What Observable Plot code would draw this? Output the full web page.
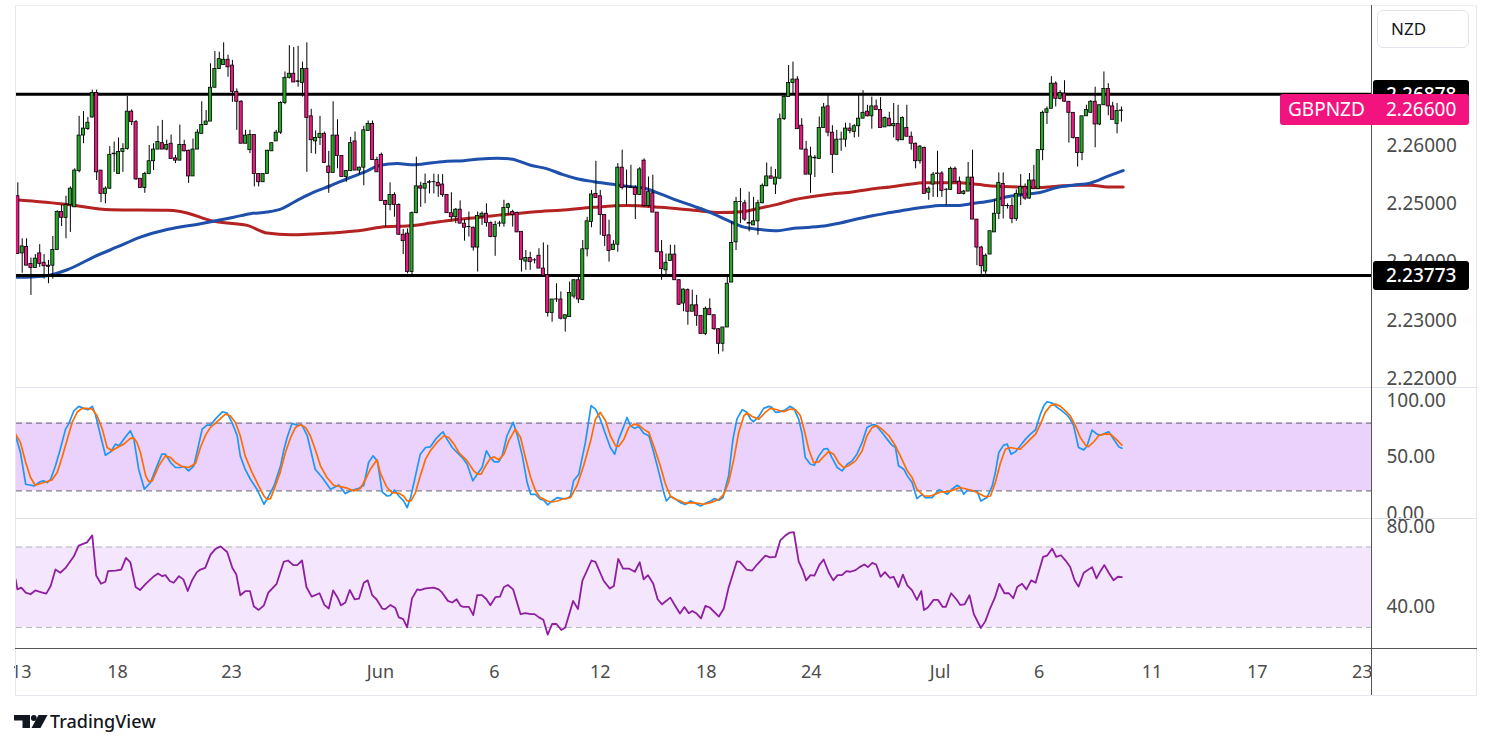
<!DOCTYPE html>
<html><head><meta charset="utf-8">
<script src="https://cdn.jsdelivr.net/npm/d3@7"></script>
<script src="https://cdn.jsdelivr.net/npm/@observablehq/plot@0.6"></script>
<style>
body{margin:0;background:#fff;}
#root{position:relative;width:1491px;height:749px;overflow:hidden;background:#fff;font-family:"Noto Sans","Open Sans",sans-serif;}
#root svg{position:absolute;left:0;max-width:none !important;}
.ln{position:absolute;}
.tag{position:absolute;color:#fff;font-size:19px;box-sizing:border-box;white-space:nowrap;}
</style></head><body><div id="root"></div>
<script>
// ---------- data ----------
const open = [2.2513,2.2415,2.2426,2.2397,2.2390,2.2415,2.2399,2.2394,2.2394,2.2421,
2.2486,2.2476,2.2498,2.2494,2.2556,2.2617,2.2628,2.2648,2.2690,2.2557,
2.2517,2.2526,2.2586,2.2551,2.2589,2.2594,2.2658,2.2640,2.2543,2.2527,
2.2551,2.2573,2.2593,2.2604,2.2593,2.2603,2.2578,2.2574,2.2601,2.2591,
2.2547,2.2593,2.2620,2.2635,2.2641,2.2699,2.2731,2.2738,2.2747,2.2737,
2.2692,2.2675,2.2603,2.2592,2.2618,2.2551,2.2537,2.2551,2.2590,2.2607,
2.2622,2.2673,2.2716,2.2723,2.2710,2.2707,2.2731,2.2650,2.2607,2.2613,
2.2620,2.2564,2.2553,2.2617,2.2582,2.2546,2.2556,2.2607,2.2557,2.2562,
2.2625,2.2637,2.2575,2.2584,2.2505,2.2498,2.2515,2.2498,2.2447,2.2449,
2.2383,2.2484,2.2530,2.2526,2.2537,2.2537,2.2536,2.2533,2.2515,2.2484,
2.2477,2.2490,2.2466,2.2460,2.2459,2.2425,2.2478,2.2483,2.2467,2.2443,
2.2466,2.2466,2.2493,2.2486,2.2484,2.2452,2.2401,2.2407,2.2403,2.2411,
2.2389,2.2378,2.2313,2.2336,2.2336,2.2303,2.2306,2.2341,2.2369,2.2335,
2.2422,2.2469,2.2517,2.2513,2.2481,2.2446,2.2421,2.2430,2.2562,2.2529,
2.2528,2.2527,2.2515,2.2574,2.2496,2.2518,2.2485,2.2417,2.2386,2.2402,
2.2413,2.2369,2.2329,2.2352,2.2315,2.2326,2.2308,2.2277,2.2320,2.2309,
2.2285,2.2260,2.2288,2.2365,2.2434,2.2503,2.2501,2.2467,2.2463,2.2470,
2.2501,2.2530,2.2547,2.2533,2.2543,2.2645,2.2683,2.2707,2.2713,2.2634,
2.2593,2.2550,2.2579,2.2577,2.2630,2.2667,2.2622,2.2584,2.2610,2.2610,
2.2629,2.2623,2.2633,2.2646,2.2658,2.2650,2.2667,2.2661,2.2631,2.2646,
2.2633,2.2637,2.2609,2.2630,2.2615,2.2603,2.2573,2.2596,2.2519,2.2533,
2.2552,2.2552,2.2524,2.2524,2.2560,2.2538,2.2517,2.2521,2.2545,2.2473,
2.2425,2.2384,2.2413,2.2451,2.2483,2.2534,2.2496,2.2496,2.2474,2.2516,
2.2529,2.2509,2.2540,2.2525,2.2592,2.2656,2.2663,2.2706,2.2680,2.2689,
2.2675,2.2656,2.2613,2.2587,2.2650,2.2656,2.2675,2.2636,2.2669,2.2697,
2.2667,2.2637,2.2659];
const high = [2.2536,2.2440,2.2440,2.2407,2.2413,2.2430,2.2413,2.2403,2.2444,2.2488,
2.2498,2.2513,2.2529,2.2560,2.2650,2.2658,2.2648,2.2695,2.2695,2.2557,
2.2529,2.2598,2.2606,2.2613,2.2603,2.2684,2.2661,2.2643,2.2543,2.2554,
2.2600,2.2603,2.2633,2.2643,2.2609,2.2618,2.2583,2.2635,2.2609,2.2592,
2.2611,2.2627,2.2675,2.2660,2.2740,2.2761,2.2760,2.2776,2.2755,2.2746,
2.2697,2.2677,2.2626,2.2626,2.2618,2.2552,2.2551,2.2592,2.2604,2.2626,
2.2675,2.2726,2.2771,2.2768,2.2770,2.2743,2.2776,2.2662,2.2625,2.2650,
2.2623,2.2590,2.2675,2.2644,2.2582,2.2557,2.2614,2.2623,2.2563,2.2633,
2.2642,2.2642,2.2580,2.2587,2.2506,2.2536,2.2519,2.2500,2.2456,2.2457,
2.2486,2.2580,2.2537,2.2551,2.2540,2.2551,2.2550,2.2550,2.2516,2.2519,
2.2492,2.2505,2.2473,2.2486,2.2460,2.2486,2.2486,2.2500,2.2469,2.2470,
2.2470,2.2506,2.2501,2.2489,2.2486,2.2452,2.2420,2.2417,2.2406,2.2423,
2.2433,2.2429,2.2336,2.2363,2.2349,2.2309,2.2366,2.2370,2.2375,2.2437,
2.2477,2.2523,2.2573,2.2523,2.2481,2.2472,2.2437,2.2569,2.2592,2.2558,
2.2566,2.2531,2.2562,2.2577,2.2546,2.2549,2.2485,2.2437,2.2414,2.2429,
2.2429,2.2370,2.2354,2.2354,2.2352,2.2343,2.2308,2.2323,2.2337,2.2309,
2.2286,2.2288,2.2377,2.2469,2.2511,2.2526,2.2506,2.2520,2.2511,2.2506,
2.2534,2.2570,2.2563,2.2559,2.2654,2.2689,2.2737,2.2743,2.2718,2.2646,
2.2607,2.2597,2.2583,2.2649,2.2672,2.2686,2.2634,2.2626,2.2623,2.2638,
2.2638,2.2636,2.2686,2.2694,2.2669,2.2683,2.2678,2.2682,2.2649,2.2657,
2.2672,2.2669,2.2649,2.2669,2.2623,2.2604,2.2600,2.2597,2.2529,2.2554,
2.2590,2.2555,2.2526,2.2563,2.2563,2.2546,2.2523,2.2571,2.2592,2.2473,
2.2427,2.2414,2.2453,2.2507,2.2553,2.2553,2.2500,2.2509,2.2524,2.2550,
2.2534,2.2552,2.2566,2.2593,2.2659,2.2666,2.2718,2.2709,2.2694,2.2711,
2.2675,2.2656,2.2613,2.2650,2.2669,2.2677,2.2700,2.2669,2.2726,2.2706,
2.2674,2.2672,2.2666];
const low = [2.2413,2.2381,2.2394,2.2343,2.2390,2.2391,2.2371,2.2363,2.2371,2.2420,
2.2461,2.2440,2.2451,2.2494,2.2553,2.2603,2.2626,2.2647,2.2540,2.2502,
2.2500,2.2525,2.2554,2.2551,2.2554,2.2592,2.2634,2.2540,2.2527,2.2518,
2.2550,2.2557,2.2593,2.2593,2.2591,2.2577,2.2569,2.2574,2.2589,2.2535,
2.2547,2.2593,2.2620,2.2635,2.2641,2.2699,2.2731,2.2738,2.2717,2.2674,
2.2626,2.2603,2.2603,2.2586,2.2529,2.2529,2.2537,2.2551,2.2590,2.2607,
2.2619,2.2670,2.2714,2.2708,2.2700,2.2683,2.2554,2.2586,2.2585,2.2600,
2.2569,2.2518,2.2553,2.2560,2.2546,2.2537,2.2556,2.2557,2.2550,2.2531,
2.2625,2.2575,2.2554,2.2505,2.2460,2.2488,2.2477,2.2446,2.2413,2.2380,
2.2377,2.2483,2.2494,2.2500,2.2517,2.2517,2.2511,2.2511,2.2484,2.2469,
2.2466,2.2466,2.2436,2.2443,2.2419,2.2383,2.2463,2.2460,2.2442,2.2410,
2.2460,2.2460,2.2480,2.2460,2.2451,2.2383,2.2386,2.2386,2.2397,2.2389,
2.2377,2.2306,2.2297,2.2331,2.2301,2.2280,2.2306,2.2337,2.2329,2.2334,
2.2409,2.2459,2.2510,2.2446,2.2427,2.2400,2.2420,2.2417,2.2524,2.2497,
2.2527,2.2473,2.2514,2.2494,2.2494,2.2485,2.2416,2.2369,2.2377,2.2402,
2.2369,2.2326,2.2315,2.2292,2.2315,2.2290,2.2277,2.2274,2.2309,2.2283,
2.2242,2.2246,2.2288,2.2365,2.2420,2.2466,2.2470,2.2452,2.2463,2.2446,
2.2500,2.2530,2.2543,2.2516,2.2543,2.2643,2.2683,2.2686,2.2628,2.2593,
2.2550,2.2518,2.2545,2.2577,2.2630,2.2615,2.2552,2.2584,2.2590,2.2597,
2.2620,2.2613,2.2614,2.2646,2.2649,2.2628,2.2661,2.2630,2.2631,2.2632,
2.2613,2.2606,2.2609,2.2615,2.2592,2.2560,2.2568,2.2517,2.2506,2.2511,
2.2511,2.2511,2.2497,2.2523,2.2537,2.2517,2.2515,2.2521,2.2473,2.2394,
2.2379,2.2379,2.2413,2.2451,2.2473,2.2474,2.2491,2.2466,2.2470,2.2497,
2.2506,2.2508,2.2525,2.2525,2.2574,2.2636,2.2663,2.2666,2.2678,2.2674,
2.2604,2.2611,2.2563,2.2574,2.2650,2.2656,2.2596,2.2634,2.2669,2.2651,
2.2644,2.2620,2.2640];
const close = [2.2414,2.2427,2.2394,2.2390,2.2406,2.2397,2.2393,2.2392,2.2421,2.2486,
2.2476,2.2498,2.2526,2.2557,2.2617,2.2629,2.2639,2.2690,2.2554,2.2517,
2.2526,2.2584,2.2585,2.2589,2.2594,2.2658,2.2640,2.2542,2.2527,2.2551,
2.2573,2.2593,2.2606,2.2593,2.2601,2.2577,2.2574,2.2601,2.2590,2.2547,
2.2593,2.2622,2.2635,2.2641,2.2699,2.2731,2.2748,2.2747,2.2734,2.2692,
2.2675,2.2603,2.2617,2.2618,2.2551,2.2537,2.2551,2.2591,2.2604,2.2622,
2.2673,2.2716,2.2723,2.2708,2.2709,2.2731,2.2647,2.2609,2.2613,2.2620,
2.2570,2.2553,2.2617,2.2582,2.2546,2.2556,2.2604,2.2557,2.2562,2.2626,
2.2637,2.2575,2.2554,2.2505,2.2498,2.2515,2.2498,2.2447,2.2436,2.2383,
2.2484,2.2530,2.2526,2.2534,2.2536,2.2537,2.2530,2.2515,2.2484,2.2477,
2.2490,2.2466,2.2459,2.2460,2.2425,2.2479,2.2483,2.2467,2.2443,2.2464,
2.2466,2.2493,2.2499,2.2481,2.2451,2.2404,2.2407,2.2400,2.2403,2.2389,
2.2377,2.2313,2.2336,2.2336,2.2303,2.2309,2.2347,2.2369,2.2336,2.2422,
2.2470,2.2516,2.2510,2.2481,2.2445,2.2419,2.2430,2.2562,2.2527,2.2529,
2.2527,2.2515,2.2559,2.2496,2.2520,2.2485,2.2417,2.2388,2.2399,2.2413,
2.2369,2.2327,2.2353,2.2315,2.2326,2.2308,2.2277,2.2320,2.2309,2.2285,
2.2260,2.2288,2.2363,2.2433,2.2503,2.2503,2.2473,2.2466,2.2470,2.2501,
2.2531,2.2547,2.2543,2.2545,2.2645,2.2683,2.2707,2.2713,2.2628,2.2593,
2.2550,2.2581,2.2578,2.2630,2.2665,2.2622,2.2584,2.2610,2.2610,2.2629,
2.2625,2.2633,2.2646,2.2656,2.2650,2.2667,2.2661,2.2630,2.2647,2.2633,
2.2637,2.2609,2.2647,2.2615,2.2603,2.2573,2.2598,2.2517,2.2526,2.2550,
2.2551,2.2522,2.2524,2.2560,2.2537,2.2517,2.2521,2.2545,2.2473,2.2425,
2.2393,2.2411,2.2453,2.2483,2.2536,2.2496,2.2496,2.2474,2.2517,2.2529,
2.2509,2.2540,2.2525,2.2592,2.2656,2.2662,2.2706,2.2680,2.2690,2.2675,
2.2656,2.2613,2.2587,2.2650,2.2661,2.2675,2.2636,2.2669,2.2697,2.2667,
2.2644,2.2659,2.2660];

// moving averages [bar index, price]
const maBlue = [[0.5,2.2374],[6.9,2.2376],[12.3,2.2387],[18.4,2.2409],[23.7,2.2426],[29.0,2.2443],[35.1,2.2456],[42.7,2.2466],[50.3,2.2477],[54.1,2.2483],[57.9,2.2486],[61.0,2.2491],[64.8,2.2506],[68.6,2.2520],[72.4,2.2531],[76.2,2.2543],[80.0,2.2554],[83.8,2.2566],[87.6,2.2569],[91.4,2.2567],[95.2,2.2570],[99.0,2.2573],[102.8,2.2574],[106.6,2.2577],[110.5,2.2578],[113.5,2.2577],[118.1,2.2566],[121.9,2.2560],[125.5,2.2550],[128.7,2.2543],[132.5,2.2538],[136.3,2.2534],[140.1,2.2530],[143.9,2.2527],[147.7,2.2517],[151.5,2.2506],[155.3,2.2496],[159.2,2.2485],[163.0,2.2472],[166.8,2.2460],[170.6,2.2456],[174.4,2.2454],[178.2,2.2458],[182.0,2.2460],[185.8,2.2463],[188.8,2.2467],[192.6,2.2474],[196.4,2.2480],[200.2,2.2485],[204.1,2.2490],[207.9,2.2494],[211.7,2.2497],[215.5,2.2497],[219.3,2.2501],[223.1,2.2505],[226.9,2.2512],[230.7,2.2516],[234.6,2.2520],[238.3,2.2528],[242.1,2.2532],[246.0,2.2536],[249.8,2.2547],[253.4,2.2557]];
const maRed = [[0.5,2.2507],[12.3,2.2499],[22.2,2.2490],[35.1,2.2489],[38.1,2.2487],[45.8,2.2470],[53.4,2.2463],[57.9,2.2450],[63.3,2.2447],[72.4,2.2450],[80.0,2.2455],[83.8,2.2460],[91.4,2.2463],[95.2,2.2467],[99.0,2.2471],[106.6,2.2477],[114.2,2.2483],[120.3,2.2487],[124.9,2.2489],[132.5,2.2494],[140.1,2.2497],[147.7,2.2494],[155.3,2.2489],[161.4,2.2485],[166.8,2.2487],[170.6,2.2493],[174.4,2.2499],[178.2,2.2507],[185.8,2.2516],[191.1,2.2520],[196.4,2.2526],[200.2,2.2529],[204.1,2.2533],[207.9,2.2536],[211.7,2.2536],[215.5,2.2536],[219.3,2.2534],[221.6,2.2532],[224.7,2.2530],[229.2,2.2529],[234.6,2.2528],[238.3,2.2530],[242.1,2.2532],[246.0,2.2532],[249.8,2.2529],[253.4,2.2529]];

// stochastic %K and %D [bar index, value]
const stochK = [[0.5,68.8],[1.6,54],[2.8,25.9],[4.7,24.4],[6.2,28.3],[6.9,28.9],[7.7,27.4],[8.5,30.3],[9.6,42.2],[10.7,56.9],[11.9,74.7],[12.6,79.1],[13.8,90.9],[14.9,94.8],[16.1,93],[17.0,91.8],[18.0,94.8],[18.7,88],[19.9,68.8],[21.0,51.6],[22.2,54.6],[23.3,61.4],[24.1,59.9],[25.2,65.8],[26.7,73.2],[27.5,65.8],[28.6,39.2],[29.9,21.5],[31.3,27.4],[32.8,42.2],[33.9,52.5],[34.7,52.5],[35.9,45.1],[37.0,40.7],[38.1,40.7],[38.9,41.6],[40.0,37.7],[41.2,42.2],[41.9,54],[43.1,74.7],[44.2,78.2],[45.0,78.2],[46.1,83.5],[47.7,90],[48.8,88.9],[49.9,80.6],[51.1,68.8],[51.8,51],[52.9,39.2],[54.1,30.3],[55.6,21.5],[57.2,8.2],[57.9,12.6],[59.5,24.4],[61.0,42.2],[61.7,55.5],[62.5,67.3],[63.6,79.7],[64.8,78.2],[65.9,78.2],[67.1,68.8],[68.9,39.2],[70.5,31.8],[72.4,21.5],[74.3,25.3],[75.8,17.6],[77.3,20.6],[78.9,22.4],[80.0,25],[81.1,45.1],[82.1,51],[83.1,46.6],[84.2,19.1],[85.3,15.5],[86.1,16.1],[87.0,20.9],[88.0,15.5],[89.1,11.1],[89.9,5.2],[90.7,14.1],[91.8,33.3],[92.9,52.5],[94.1,58.4],[95.2,59],[96.4,65.8],[97.5,70.2],[98.1,72.3],[99.0,65.8],[100.2,58.4],[101.3,54],[102.5,49.5],[103.6,43.6],[104.9,28.9],[105.9,34.8],[107.0,40.7],[108.0,55.5],[108.9,49.5],[109.8,45.7],[110.8,45.7],[111.6,51],[112.7,68.8],[114.1,80.6],[115.0,70.2],[116.2,51],[117.3,27.4],[118.1,17],[119.2,17],[120.3,12.6],[121.1,11.7],[122.0,7.6],[123.0,11.1],[124.2,14.1],[125.3,13.2],[126.4,13.2],[127.2,15.5],[127.9,28.9],[129.1,34.8],[130.6,62.9],[131.9,95.4],[132.9,92.4],[134.0,83.5],[135.2,70.2],[136.3,58.4],[137.3,52.5],[138.2,65.8],[139.4,77.6],[140.1,85],[140.9,77.6],[141.8,75.3],[142.8,77],[143.9,71.1],[145.1,68.8],[146.2,54],[147.4,36.2],[148.5,18.5],[149.1,11.1],[150.0,15],[151.2,12.6],[152.3,9.6],[153.4,7.9],[154.6,11.1],[155.7,9.1],[156.9,6.7],[158.0,9.1],[159.2,11.1],[160.1,13.2],[161.1,11.7],[162.0,14.1],[163.3,33.3],[164.3,65.8],[165.2,83.5],[166.4,91.8],[167.5,89.5],[168.3,83.5],[169.0,81.2],[170.2,85.9],[171.3,93],[172.5,94.8],[173.2,93.9],[174.0,89.5],[175.1,90],[176.3,91.8],[177.3,94.8],[178.2,93],[179.3,83.5],[180.1,70.2],[180.8,49.5],[182.0,43.6],[182.9,42.7],[183.9,51],[185.0,56.9],[185.9,57.5],[186.9,49.5],[188.1,40.7],[189.2,37.7],[190.4,43.6],[191.5,46.6],[192.6,52.5],[193.8,62.9],[194.9,76.2],[196.1,78.5],[196.8,78.5],[198.0,73.2],[199.5,65.8],[200.6,60.5],[201.4,58.4],[202.1,42.2],[203.3,39.2],[204.1,33.3],[205.2,27.4],[206.3,13.2],[207.5,17],[208.2,14.1],[209.8,14.1],[211.3,20.9],[212.0,20],[213.2,17],[214.3,21.5],[215.5,25],[216.2,23],[217.0,17],[217.8,20.6],[218.9,20],[220.0,20],[220.9,11.1],[222.3,14.1],[223.5,24.4],[224.2,36.2],[225.0,54],[226.1,60.5],[226.9,61.4],[227.8,52.5],[228.8,54.6],[229.9,59.9],[231.1,65.8],[232.2,70.2],[233.4,74.1],[234.5,88],[235.3,95.4],[236.0,98.9],[237.2,97.7],[238.3,93.9],[239.4,90.9],[240.6,87.1],[241.3,83.5],[242.1,77.6],[243.2,58.4],[244.4,56.3],[245.1,59.3],[246.3,73.8],[247.4,70.2],[248.2,69.3],[249.3,71.1],[250.1,72.3],[251.2,65.8],[252.4,59],[253.1,57.8]];
const stochD = [[0.5,70.2],[1.6,62.9],[2.8,45.1],[3.9,31.8],[5.0,25],[6.2,26.5],[7.7,28.3],[8.8,29.7],[10.0,36.2],[11.1,49.5],[12.3,65.8],[13.4,80.6],[14.6,90],[15.7,93],[16.8,93],[18.0,92.4],[19.1,86.5],[20.3,74.7],[21.4,58.4],[22.5,55.5],[23.7,58.4],[25.2,61.4],[26.7,66.4],[27.5,66.7],[28.2,62.9],[29.0,54],[30.2,33.3],[30.9,28.3],[31.7,28.9],[33.2,42.2],[34.7,51],[35.9,49.5],[37.0,45.1],[38.5,41.6],[40.0,40.7],[41.6,44.5],[42.7,58.4],[43.9,69.6],[45.0,76.2],[46.5,81.2],[48.4,88],[49.5,86.5],[50.7,80.6],[51.8,68.8],[52.9,51],[54.5,36.2],[56.0,24.4],[57.2,15.5],[57.9,12.6],[58.7,13.2],[59.8,24.4],[60.9,36.2],[62.1,54],[63.3,67.3],[64.4,76.2],[65.5,78.5],[66.7,76.2],[67.8,68.8],[68.9,56.9],[70.1,42.2],[71.6,31.8],[73.1,25],[74.7,23.8],[76.2,22.4],[77.7,20],[79.2,22.1],[80.4,30.3],[81.5,39.2],[83.0,47.5],[83.8,35.6],[85.3,23],[86.5,18.5],[88.0,17.9],[89.1,15.5],[89.9,11.1],[90.8,11.1],[91.8,18.5],[92.9,33.3],[94.1,48.1],[95.2,55.5],[96.7,62.9],[98.3,68.8],[99.4,67.3],[100.6,61.4],[101.7,54],[103.6,46.6],[105.1,37.7],[106.0,34.8],[106.8,34.8],[107.8,42.2],[108.9,48.7],[109.8,50.1],[110.8,47.5],[112.0,52.5],[113.1,64.3],[114.6,74.7],[115.8,67.3],[116.9,49.5],[118.1,31.8],[119.2,20],[120.3,14.1],[121.9,11.1],[123.0,10.2],[124.2,11.1],[125.3,12.6],[127.2,14.1],[128.7,25],[130.2,42.2],[131.8,64.3],[132.9,83.5],[134.0,89.5],[135.2,82.1],[136.3,68.8],[137.5,59.9],[138.2,59.3],[139.4,65.8],[140.5,76.2],[141.7,79.1],[142.8,78.2],[143.9,74.7],[145.1,71.7],[146.2,59.9],[147.7,42.2],[148.9,25.9],[150.0,15.5],[151.2,12.6],[152.3,11.1],[153.4,9.1],[155.4,9.6],[157.6,8.2],[159.2,9.6],[161.1,12.6],[162.2,17],[163.3,27.4],[164.5,48.1],[165.6,71.7],[166.8,86.5],[167.5,88.9],[168.7,85.9],[170.2,83.5],[171.7,89.5],[172.8,93],[174.4,91.8],[175.9,90],[177.4,92.4],[178.6,91.8],[179.7,86.5],[180.5,74.7],[181.6,56.9],[182.7,45.1],[183.9,45.7],[185.0,50.4],[186.2,54.9],[187.3,52.5],[188.5,44.5],[189.6,40.7],[190.7,42.2],[192.3,46.6],[193.8,55.5],[194.9,68.8],[196.1,76.2],[197.2,77.6],[198.3,74.7],[199.9,68.8],[201.4,59.9],[202.5,51],[204.1,37.7],[205.2,31.8],[206.3,21.5],[207.9,15.5],[209.4,15.5],[210.5,17],[211.7,19.1],[213.2,19.1],[214.7,20.9],[216.2,23],[217.8,21.5],[219.3,20],[220.8,17],[221.9,14.9],[223.1,15.5],[224.2,27.4],[225.4,45.1],[226.5,56.9],[227.6,58.4],[228.8,57.5],[229.9,56.9],[231.1,61.4],[232.2,65.8],[233.4,70.2],[234.5,79.1],[235.6,89.5],[236.8,95.4],[237.9,96.8],[239.1,94.8],[240.2,90.9],[241.3,86.5],[242.5,77.6],[243.6,67.3],[244.8,60.5],[245.5,59.1],[246.7,63.5],[247.8,68.8],[249.0,70.2],[250.5,70.2],[251.6,66.4],[253.1,60.5]];

// RSI [bar index, value]
const rsi = [[0.5,53.9],[0.9,48.9],[1.8,49.8],[2.8,47.3],[3.9,46.5],[5.0,48.4],[6.2,47.6],[7.5,46.8],[8.5,50.6],[9.6,58.8],[10.7,57.2],[11.9,59.6],[13.8,65.4],[14.9,70.7],[16.8,72.3],[18.0,75.8],[18.9,55.8],[20.0,51.7],[21.0,52.7],[21.6,58],[23.3,58.3],[24.6,58.8],[25.7,64.6],[26.7,62.4],[27.9,50.1],[28.9,48.6],[30.2,51.7],[32.1,55.5],[33.0,56.8],[34.0,55.5],[34.7,56],[35.7,53.1],[36.6,52.2],[37.8,55.5],[38.8,53.9],[39.8,48.1],[40.8,53.5],[41.9,57.5],[42.7,58.8],[43.8,59.6],[45.0,66.2],[46.1,69],[47.3,70.3],[48.8,67.5],[50.0,59.6],[50.9,56.3],[51.8,46],[53.0,48.1],[54.0,48.1],[54.9,40.4],[56.0,38.7],[57.2,41],[58.2,47.3],[60.1,51.7],[61.7,62.6],[62.7,63.3],[63.9,61],[64.8,61],[65.9,63.3],[66.9,50.1],[68.1,45.3],[69.9,47],[71.0,41.2],[72.0,39.4],[73.0,48.4],[74.1,44.5],[74.8,41],[75.8,42.4],[76.8,48.6],[77.9,44],[78.9,44.3],[80.0,52.2],[80.9,53.4],[81.9,46.1],[82.9,44],[84.2,39.4],[84.9,39.1],[86.1,41.2],[87.2,39.6],[88.0,35],[89.0,34.1],[89.9,30],[91.0,44.3],[92.2,48.9],[92.9,48.6],[94.1,49.4],[96.0,49.8],[97.1,48.9],[97.9,47.3],[99.2,43.2],[100.2,42.4],[101.2,44],[102.1,40.7],[102.8,40.2],[104.0,40.2],[105.0,36.1],[105.9,46.1],[107.0,46.1],[108.0,44],[108.9,41],[110.1,45.1],[111.1,45.3],[112.0,50.1],[112.9,51.1],[114.1,48.9],[115.8,36.6],[116.9,37.1],[118.1,36.6],[119.0,36.6],[120.0,35],[121.0,33.8],[122.0,26.4],[123.0,31.7],[124.0,31.7],[125.1,28.7],[126.0,30],[127.8,43.2],[128.9,39.1],[129.9,53.1],[132.0,63.3],[132.9,62.6],[134.8,53.1],[136.2,49.3],[137.1,50.6],[138.1,64.1],[139.2,59.3],[140.5,59.3],[141.9,57.7],[143.0,62.4],[143.9,53.9],[144.9,56],[146.1,51.7],[147.1,44],[148.1,41.5],[150.0,44.8],[151.2,40.4],[152.2,36.9],[153.2,40.2],[154.2,37.1],[155.0,38.2],[156.0,36.9],[157.0,34.5],[158.0,40.7],[159.0,39.9],[161.1,35.4],[162.2,39.4],[163.3,49.8],[164.3,56.7],[165.2,62.9],[165.9,62.6],[167.4,58.8],[168.7,58.3],[169.8,61.3],[171.7,65.7],[172.8,64.9],[174.0,65.1],[175.1,73.3],[176.3,75.8],[177.3,77.2],[178.2,77.4],[179.3,62.9],[180.3,58],[181.0,53.4],[182.0,56],[182.9,55.8],[184.0,61],[185.0,63.8],[186.2,57.2],[187.2,53.4],[188.2,56],[189.2,56],[190.2,58],[191.1,57.7],[192.3,58.5],[193.2,60],[194.3,61.3],[195.1,60],[196.1,62.1],[197.0,61.3],[198.0,55.2],[199.0,57.5],[200.1,54.7],[201.0,55.2],[202.1,50.1],[203.1,56.3],[204.1,50.9],[205.2,48.4],[206.3,43.7],[207.3,48.1],[207.9,38.6],[208.8,39.9],[210.1,43.7],[211.1,43.7],[212.2,40.2],[212.9,40.2],[214.1,47],[215.3,44],[216.2,41.2],[217.2,41.5],[218.3,46],[219.3,36.6],[220.9,29.7],[221.9,33],[223.1,39.9],[224.1,44.8],[225.1,51.7],[226.3,47],[227.3,47],[228.3,44.5],[229.2,50.1],[230.3,51.7],[231.3,48.9],[232.4,53.4],[233.4,52.2],[235.1,65.1],[236.0,65.7],[237.2,69.2],[238.1,65.1],[239.2,65.9],[240.2,63.4],[241.3,60.1],[242.3,53.5],[243.2,50.3],[244.4,57.2],[246.3,60],[247.3,54.4],[248.2,58],[249.1,61],[250.1,57.2],[251.2,53.5],[252.2,55.2],[253.1,55]];

const xTicks = [1.8, 23.76, 49.79, 83.8, 109.8, 134.0, 158.2, 182.2, 211.6, 234.2, 260.0, 284.0, 308.0];
const xTickLabels = ["13","18","23","Jun","6","12","18","24","Jul","6","11","17","23"];
const priceTicks = [2.22, 2.23, 2.24, 2.25, 2.26];
const stochTicks = [0, 50, 100];
const rsiTicks = [40, 80];
const stochBand = [20, 80];
const rsiBand = [30, 70];
const levels = [2.26878, 2.23773];
const symbol = "GBPNZD";
const lastPrice = 2.26600;
const currency = "NZD";

// ---------- build ----------
const candles = open.map((o, k) => ({i: k + 1, o, h: high[k], l: low[k], c: close[k]}));
const GREEN = "#26a828", PINK = "#ee1781";
const FONT = '"Noto Sans","Open Sans",sans-serif';
const xDom = [0.7, 310.1];
const base = {width: 1476, marginLeft: 16, marginRight: 105, x: {domain: xDom, axis: null}};
const st = {background: "transparent", color: "#4c4c4c", fontSize: "19px", fontFamily: FONT, overflow: "visible"};
const root = document.getElementById("root");

const pricePlot = Plot.plot({
  ...base, height: 383, marginTop: 0, marginBottom: 0,
  y: {domain: [2.21834, 2.28400], axis: null},
  style: st,
  marks: [
    Plot.axisY({ticks: priceTicks, anchor: "right", tickSize: 0, tickPadding: 15, tickFormat: d => d.toFixed(5)}),
    Plot.line(maRed, {x: d => d[0], y: d => d[1], stroke: "#b52222", strokeWidth: 3, curve: "monotone-x", clip: true}),
    Plot.line(maBlue, {x: d => d[0], y: d => d[1], stroke: "#1d4fab", strokeWidth: 3, curve: "monotone-x", clip: true}),
    Plot.ruleY(levels, {stroke: "#000", strokeWidth: 3}),
    Plot.ruleX(candles, {x: "i", y1: "l", y2: "h", stroke: "#000", strokeWidth: 1}),
    Plot.rect(candles, {
      x1: d => d.i - 0.36, x2: d => d.i + 0.36,
      y1: "o", y2: d => Math.abs(d.c - d.o) < 0.00002 ? d.o + 0.00002 : d.c,
      fill: d => d.c >= d.o ? GREEN : PINK, stroke: "#000", strokeWidth: 0.8
    })
  ]
});
pricePlot.style.top = "5px";
root.appendChild(pricePlot);

const stochPlot = Plot.plot({
  ...base, height: 130, marginTop: 0, marginBottom: 0,
  y: {domain: [-4.42, 110.62], axis: null},
  style: st,
  marks: [
    Plot.rect([stochBand], {x1: () => xDom[0], x2: () => xDom[1], y1: d => d[0], y2: d => d[1], fill: "#ead2fc"}),
    Plot.ruleY(stochBand, {stroke: "#5d606b", strokeDasharray: "6,4", strokeWidth: 1}),
    Plot.line(stochK, {x: d => d[0], y: d => d[1], stroke: "#2196f3", strokeWidth: 1.7, clip: true}),
    Plot.line(stochD, {x: d => d[0], y: d => d[1], stroke: "#ff6d00", strokeWidth: 1.7, clip: true}),
    Plot.axisY({ticks: stochTicks, anchor: "right", tickSize: 0, tickPadding: 15, tickFormat: d => d.toFixed(2)})
  ]
});
stochPlot.style.top = "388px";
root.appendChild(stochPlot);

const rsiPlot = Plot.plot({
  ...base, height: 177, marginTop: 0, marginBottom: 47,
  y: {domain: [19.5, 84.2], axis: null},
  style: st,
  marks: [
    Plot.rect([rsiBand], {x1: () => xDom[0], x2: () => xDom[1], y1: d => d[0], y2: d => d[1], fill: "#f4e6fd"}),
    Plot.ruleY(rsiBand, {stroke: "#b2b5be", strokeDasharray: "6,4", strokeWidth: 1}),
    Plot.line(rsi, {x: d => d[0], y: d => d[1], stroke: "#8e1fa0", strokeWidth: 1.8, clip: true}),
    Plot.axisY({ticks: rsiTicks, anchor: "right", tickSize: 0, tickPadding: 15, tickFormat: d => d.toFixed(2)}),
    Plot.axisX({ticks: xTicks, anchor: "bottom", tickSize: 0, tickPadding: 17, fontSize: 18, tickFormat: d => xTickLabels[xTicks.indexOf(d)]})
  ]
});
rsiPlot.style.top = "518px";
root.appendChild(rsiPlot);

// ---------- frame & overlays ----------
function line(l, t, w, h, c) {
  const d = document.createElement("div");
  d.className = "ln";
  Object.assign(d.style, {left: l + "px", top: t + "px", width: w + "px", height: h + "px", background: c});
  root.appendChild(d);
}
line(0, 650, 14, 45, "#fff");           // clip of left-edge tick label
line(15, 5, 1, 690, "#e6e8ee");
line(1476, 5, 1, 690, "#e6e8ee");
line(15, 5, 1462, 1, "#eef0f3");
line(15, 695, 1462, 1, "#e6e8ee");
line(15, 387, 1462, 1, "#e0e3eb");
line(15, 518, 1462, 1, "#e0e3eb");
line(15, 648, 1462, 1, "#555");
line(1371, 5, 1, 690, "#555");

const yS = pricePlot.scale("y");
function priceTag(v) {
  const y = 5 + yS.apply(v);
  const d = document.createElement("div");
  d.className = "tag";
  d.textContent = v.toFixed(5);
  Object.assign(d.style, {left: "1373px", top: (y - 14) + "px", width: "96px", height: "29px", lineHeight: "29px",
    paddingLeft: "13px", background: "#000", borderRadius: "3px", fontWeight: "500"});
  root.appendChild(d);
}
levels.forEach(priceTag);

{
  const y = 5 + yS.apply(lastPrice);
  const d = document.createElement("div");
  d.className = "tag";
  Object.assign(d.style, {left: "1280px", top: (y - 15.5) + "px", width: "189px", height: "31px", lineHeight: "31px",
    background: "#f2137e", borderRadius: "3px"});
  const a = document.createElement("span");
  a.textContent = symbol;
  Object.assign(a.style, {position: "absolute", left: "8px"});
  const b = document.createElement("span");
  b.textContent = lastPrice.toFixed(5);
  Object.assign(b.style, {position: "absolute", left: "106px"});
  d.appendChild(a); d.appendChild(b);
  root.appendChild(d);
}

{
  const d = document.createElement("div");
  d.textContent = currency;
  Object.assign(d.style, {position: "absolute", left: "1377px", top: "10px", width: "92px", height: "38px", boxSizing: "border-box",
    border: "1px solid #e0e3eb", borderRadius: "6px", paddingLeft: "13px", lineHeight: "36px", fontSize: "17px", color: "#131722"});
  root.appendChild(d);
}

// TradingView logo
{
  const ns = "http://www.w3.org/2000/svg";
  const s = document.createElementNS(ns, "svg");
  s.setAttribute("width", "34"); s.setAttribute("height", "13");
  s.setAttribute("viewBox", "0 0 34 13");
  s.style.left = "14px"; s.style.top = "715px";
  s.innerHTML = '<path d="M0 0H16V13H8.5V5.5H0Z" fill="#131722"/><circle cx="19.8" cy="3" r="2.9" fill="#131722"/><path d="M24.5 0H33.5L26.5 13H17.5Z" fill="#131722"/>';
  root.appendChild(s);
  const t = document.createElement("div");
  t.textContent = "TradingView";
  Object.assign(t.style, {position: "absolute", left: "50px", top: "710px", fontSize: "18px", lineHeight: "22px", color: "#131722", fontWeight: "500"});
  root.appendChild(t);
}
</script></body></html>
